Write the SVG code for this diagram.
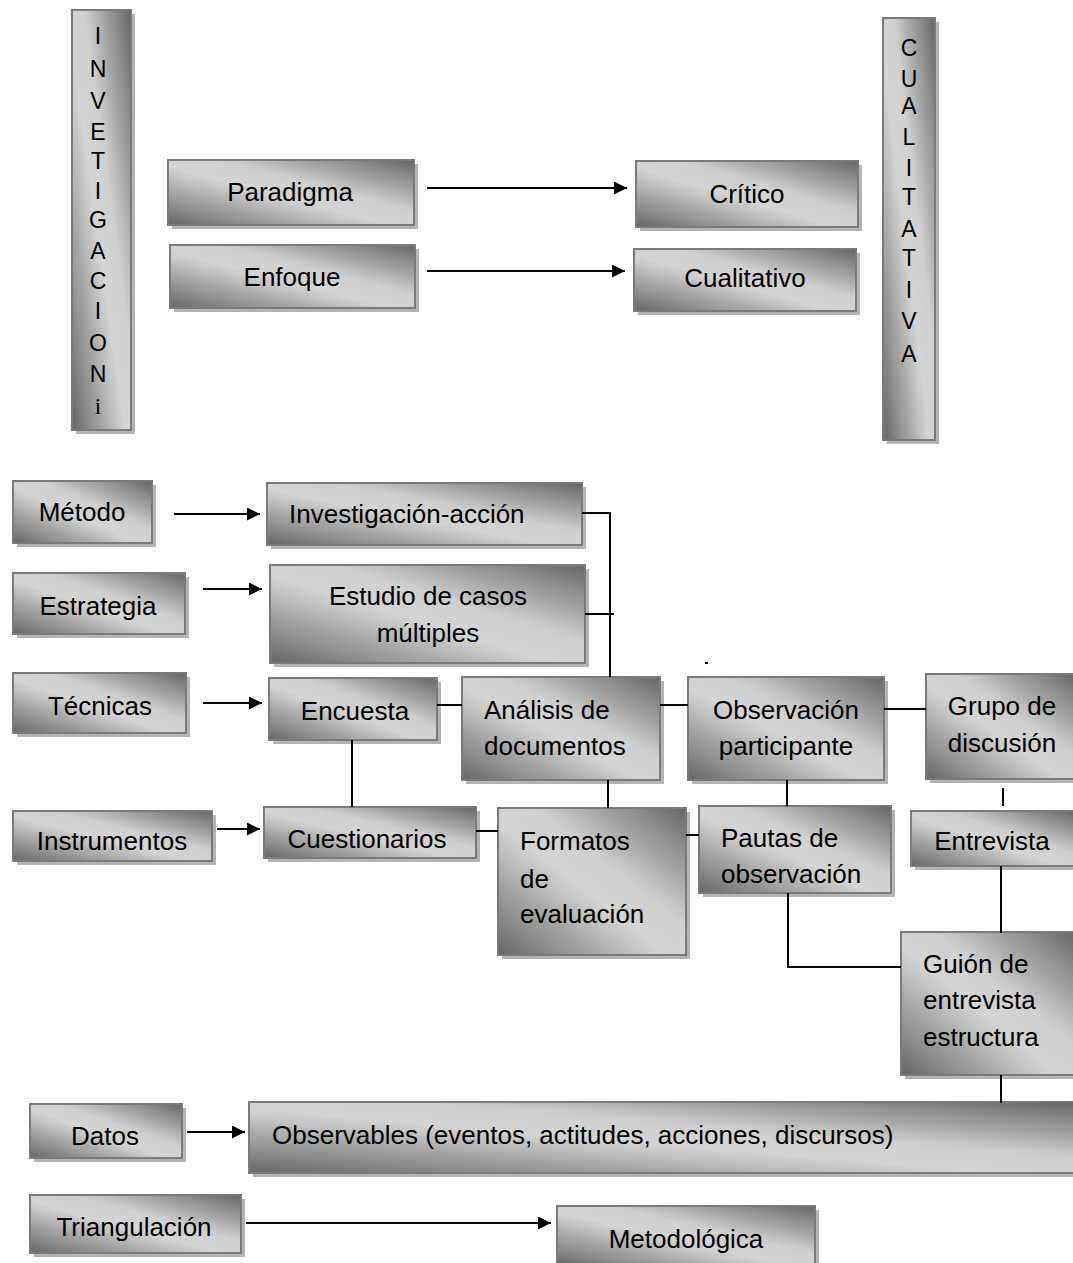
<svg xmlns="http://www.w3.org/2000/svg" width="1073" height="1263" viewBox="0 0 1073 1263">
<defs>
<linearGradient id="g" x1="0" y1="1" x2="1" y2="0">
<stop offset="0" stop-color="#666"/>
<stop offset="0.45" stop-color="#d4d4d4"/>
<stop offset="0.6" stop-color="#cfcfcf"/>
<stop offset="1" stop-color="#666"/>
</linearGradient>
<marker id="ah2" viewBox="0 0 10 10" refX="10" refY="5" markerWidth="13" markerHeight="13" markerUnits="userSpaceOnUse" orient="auto"><path d="M0,0 L10,5 L0,10 z" fill="#000"/></marker>
</defs>
<style>
.sh{fill:#b4b4b4}
.bx{fill:url(#g);stroke:#7a7a7a;stroke-width:2}
text{font-family:"Liberation Sans",Arial,sans-serif;font-size:26px;fill:#000}
.c{text-anchor:middle}
.v{font-size:23px;text-anchor:middle}
.ln{stroke:#000;stroke-width:2;fill:none}
.ar{stroke:#000;stroke-width:2;fill:none;marker-end:url(#ah2)}
</style>
<rect width="1073" height="1263" fill="#fff"/>

<g id="invetigacion">
<rect class="sh" x="76" y="14" width="59" height="420"/>
<rect class="bx" x="72" y="10" width="59" height="420"/>
<text class="v" x="98" y="44">I</text>
<text class="v" x="98" y="77">N</text>
<text class="v" x="98" y="109">V</text>
<text class="v" x="98" y="140">E</text>
<text class="v" x="98" y="169">T</text>
<text class="v" x="98" y="199">I</text>
<text class="v" x="98" y="228">G</text>
<text class="v" x="98" y="259">A</text>
<text class="v" x="98" y="289">C</text>
<text class="v" x="98" y="319">I</text>
<text class="v" x="98" y="351">O</text>
<text class="v" x="98" y="382">N</text>
<text class="v" x="98" y="414" style="font-family:'Liberation Serif',serif">i</text>
</g>

<g id="cualitativa">
<rect class="sh" x="887" y="22" width="52" height="422"/>
<rect class="bx" x="883" y="18" width="52" height="422"/>
<text class="v" x="909" y="56">C</text>
<text class="v" x="909" y="87">U</text>
<text class="v" x="909" y="114">A</text>
<text class="v" x="909" y="145">L</text>
<text class="v" x="909" y="176">I</text>
<text class="v" x="909" y="205">T</text>
<text class="v" x="909" y="237">A</text>
<text class="v" x="909" y="266">T</text>
<text class="v" x="909" y="298">I</text>
<text class="v" x="909" y="329">V</text>
<text class="v" x="909" y="362">A</text>
</g>

<g id="paradigma">
<rect class="sh" x="172" y="164" width="246" height="65"/>
<rect class="bx" x="168" y="160" width="246" height="65"/>
<text class="c" x="290" y="201">Paradigma</text>
</g>
<g id="enfoque">
<rect class="sh" x="174" y="249" width="245" height="63"/>
<rect class="bx" x="170" y="245" width="245" height="63"/>
<text class="c" x="292" y="286">Enfoque</text>
</g>
<g id="critico">
<rect class="sh" x="640" y="165" width="222" height="66"/>
<rect class="bx" x="636" y="161" width="222" height="66"/>
<text class="c" x="747" y="203">Crítico</text>
</g>
<g id="cualitativo">
<rect class="sh" x="638" y="253" width="222" height="62"/>
<rect class="bx" x="634" y="249" width="222" height="62"/>
<text class="c" x="745" y="287">Cualitativo</text>
</g>

<g id="metodo">
<rect class="sh" x="17" y="485" width="139" height="62"/>
<rect class="bx" x="13" y="481" width="139" height="62"/>
<text class="c" x="82" y="521">Método</text>
</g>
<g id="investigacion-accion">
<rect class="sh" x="271" y="487" width="315" height="62"/>
<rect class="bx" x="267" y="483" width="315" height="62"/>
<text x="289" y="523">Investigación-acción</text>
</g>
<g id="estrategia">
<rect class="sh" x="17" y="577" width="172" height="61"/>
<rect class="bx" x="13" y="573" width="172" height="61"/>
<text class="c" x="98" y="615">Estrategia</text>
</g>
<g id="estudio">
<rect class="sh" x="274" y="569" width="315" height="98"/>
<rect class="bx" x="270" y="565" width="315" height="98"/>
<text class="c" x="428" y="605">Estudio de casos</text>
<text class="c" x="428" y="642">múltiples</text>
</g>
<g id="tecnicas">
<rect class="sh" x="17" y="677" width="173" height="60"/>
<rect class="bx" x="13" y="673" width="173" height="60"/>
<text class="c" x="100" y="715">Técnicas</text>
</g>
<g id="encuesta">
<rect class="sh" x="273" y="682" width="168" height="62"/>
<rect class="bx" x="269" y="678" width="168" height="62"/>
<text class="c" x="355" y="720">Encuesta</text>
</g>
<g id="analisis">
<rect class="sh" x="466" y="681" width="198" height="103"/>
<rect class="bx" x="462" y="677" width="198" height="103"/>
<text x="484" y="719">Análisis de</text>
<text x="484" y="755">documentos</text>
</g>
<g id="observacion">
<rect class="sh" x="692" y="681" width="196" height="103"/>
<rect class="bx" x="688" y="677" width="196" height="103"/>
<text class="c" x="786" y="719">Observación</text>
<text class="c" x="786" y="755">participante</text>
</g>
<g id="grupo">
<rect class="sh" x="930" y="678" width="147" height="105"/>
<rect class="bx" x="926" y="674" width="150" height="105"/>
<text class="c" x="1002" y="715">Grupo de</text>
<text class="c" x="1002" y="752">discusión</text>
</g>
<g id="instrumentos">
<rect class="sh" x="17" y="815" width="199" height="50"/>
<rect class="bx" x="13" y="811" width="199" height="50"/>
<text class="c" x="112" y="850">Instrumentos</text>
</g>
<g id="cuestionarios">
<rect class="sh" x="268" y="811" width="212" height="51"/>
<rect class="bx" x="264" y="807" width="212" height="51"/>
<text class="c" x="367" y="848">Cuestionarios</text>
</g>
<g id="formatos">
<rect class="sh" x="502" y="812" width="188" height="147"/>
<rect class="bx" x="498" y="808" width="188" height="147"/>
<text x="520" y="850">Formatos</text>
<text x="520" y="888">de</text>
<text x="520" y="923">evaluación</text>
</g>
<g id="pautas">
<rect class="sh" x="703" y="810" width="192" height="87"/>
<rect class="bx" x="699" y="806" width="192" height="87"/>
<text x="721" y="847">Pautas de</text>
<text x="721" y="883">observación</text>
</g>
<g id="entrevista">
<rect class="sh" x="915" y="815" width="162" height="55"/>
<rect class="bx" x="911" y="811" width="165" height="55"/>
<text class="c" x="992" y="850">Entrevista</text>
</g>
<g id="guion">
<rect class="sh" x="905" y="936" width="172" height="143"/>
<rect class="bx" x="901" y="932" width="175" height="143"/>
<text x="923" y="973">Guión de</text>
<text x="923" y="1009">entrevista</text>
<text x="923" y="1046">estructura</text>
</g>
<g id="datos">
<rect class="sh" x="34" y="1108" width="152" height="54"/>
<rect class="bx" x="30" y="1104" width="152" height="54"/>
<text class="c" x="105" y="1145">Datos</text>
</g>
<g id="observables">
<rect class="sh" x="253" y="1106" width="824" height="71"/>
<rect class="bx" x="249" y="1102" width="827" height="71"/>
<text x="272" y="1144">Observables (eventos, actitudes, acciones, discursos)</text>
</g>
<g id="triangulacion">
<rect class="sh" x="34" y="1199" width="211" height="58"/>
<rect class="bx" x="30" y="1195" width="211" height="58"/>
<text class="c" x="134" y="1236">Triangulación</text>
</g>
<g id="metodologica">
<rect class="sh" x="561" y="1210" width="258" height="60"/>
<rect class="bx" x="557" y="1206" width="258" height="60"/>
<text class="c" x="686" y="1248">Metodológica</text>
</g>

<g id="connectors">
<line class="ar" x1="427" y1="188" x2="627" y2="188"/>
<line class="ar" x1="427" y1="271" x2="625" y2="271"/>
<line class="ar" x1="174" y1="514" x2="260" y2="514"/>
<line class="ar" x1="203" y1="589" x2="262" y2="589"/>
<line class="ar" x1="203" y1="703" x2="262" y2="703"/>
<line class="ar" x1="217" y1="829" x2="260" y2="829"/>
<line class="ar" x1="187" y1="1132" x2="245" y2="1132"/>
<line class="ar" x1="246" y1="1223" x2="551" y2="1223"/>
<polyline class="ln" points="582,513 610,513 610,677"/>
<line class="ln" x1="585" y1="614" x2="614" y2="614"/>
<line class="ln" x1="437" y1="705" x2="462" y2="705"/>
<line class="ln" x1="660" y1="705" x2="688" y2="705"/>
<line class="ln" x1="884" y1="709" x2="926" y2="709"/>
<line class="ln" x1="705" y1="663" x2="708" y2="663"/>
<line class="ln" x1="352" y1="740" x2="352" y2="807"/>
<line class="ln" x1="476" y1="831" x2="498" y2="831"/>
<line class="ln" x1="608" y1="780" x2="608" y2="808"/>
<line class="ln" x1="686" y1="835" x2="699" y2="835"/>
<line class="ln" x1="787" y1="780" x2="787" y2="806"/>
<polyline class="ln" points="788,893 788,967 901,967"/>
<line class="ln" x1="1003" y1="788" x2="1003" y2="806"/>
<line class="ln" x1="1001" y1="866" x2="1001" y2="933"/>
<line class="ln" x1="1001" y1="1075" x2="1001" y2="1103"/>
</g>
</svg>
